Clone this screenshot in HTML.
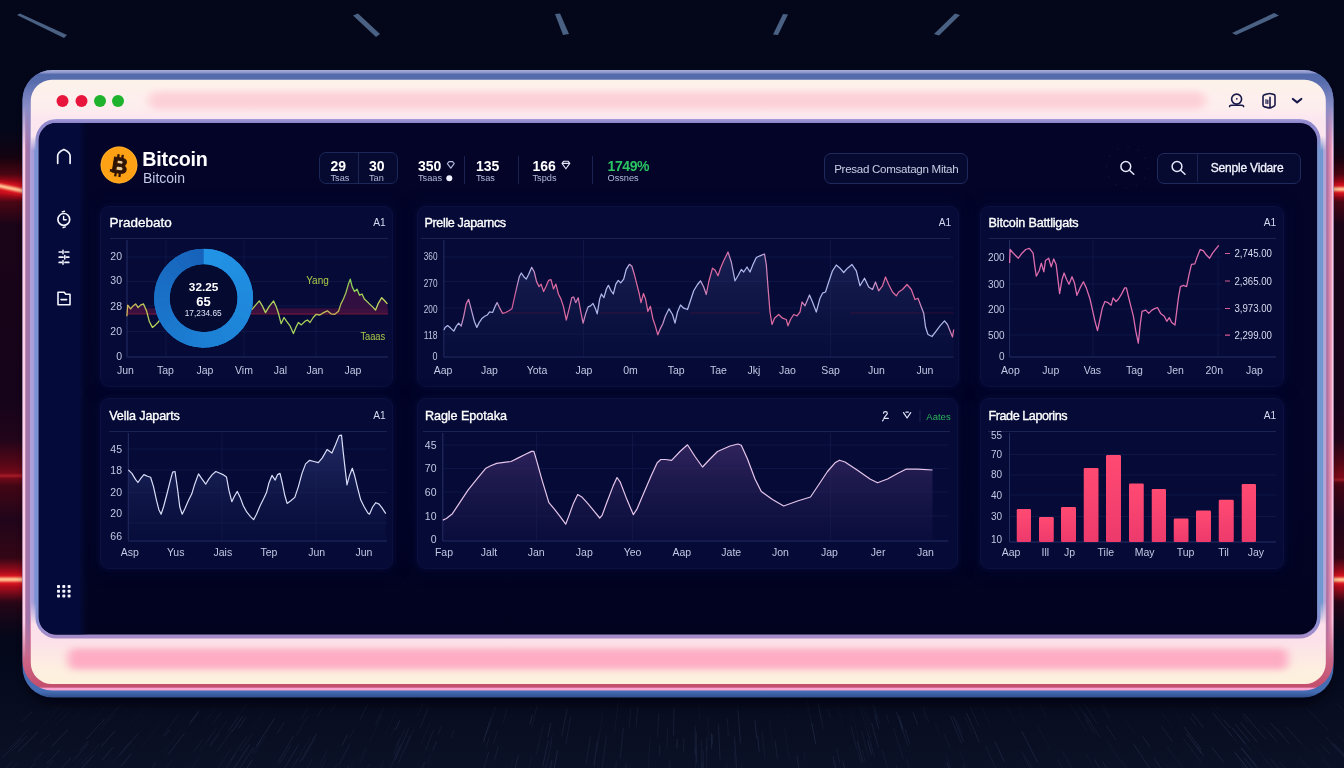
<!DOCTYPE html>
<html lang="en">
<head>
<meta charset="utf-8">
<title>Bitcoin Dashboard</title>
<style>
*{box-sizing:border-box}
html,body{margin:0;padding:0;background:#04071a}
body{width:1344px;height:768px;overflow:hidden;position:relative;font-family:"Liberation Sans",sans-serif;color:#fff}
#stage{position:absolute;left:0;top:0;width:1344px;height:768px;overflow:hidden;background:#04071a}
#stage svg{position:absolute;left:0;top:0;overflow:visible}
.abs{position:absolute}
/* window chrome */
.dot{position:absolute;width:12px;height:12px;border-radius:50%;top:95px}
/* header */
.brand-title{position:absolute;left:142.3px;top:147.5px;font-size:19.7px;font-weight:700;line-height:22px;letter-spacing:-0.2px;color:#fff}
.brand-sub{position:absolute;left:143px;top:170px;font-size:14px;line-height:16px;color:#c4c9e6}
.stat{position:absolute;top:157.6px;text-align:left;white-space:nowrap}
.stat b{display:block;font-size:14px;line-height:16px;font-weight:700;color:#fff}
.stat span{display:block;font-size:9.2px;line-height:10px;margin-top:-0.3px;color:#b4b9d8}
.vdiv{position:absolute;top:156px;width:1px;height:28px;background:#1a2350}
.btn{position:absolute;top:152.5px;height:31px;border:1px solid #1f2a5c;border-radius:7px;background:#060a31;font-size:12px;line-height:29px;color:#c9cde3;white-space:nowrap}
/* cards */
.card{position:absolute;border:1px solid #0b113f;border-radius:9px;background:#050a36;box-shadow:0 0 4px 1px rgba(5,10,54,.9),0 0 14px 5px rgba(4,8,50,.45)}
.card h3{position:absolute;left:8.4px;top:8.2px;margin:0;font-size:13.5px;line-height:16px;font-weight:400;color:#fff;white-space:nowrap;-webkit-text-stroke:0.35px #fff}
.card .tag{position:absolute;right:6.4px;top:8.8px;font-size:10.2px;line-height:14px;color:#d5d8ee;white-space:nowrap}
.card.r2 h3{top:9.2px}.card.r2 .tag{top:10px}.card.r2 hr{top:31.8px}
.card svg{left:0;top:0}
.card hr{position:absolute;left:8.5px;top:30.8px;margin:0;border:0;border-top:1px solid #1b2353}
svg text{font-family:"Liberation Sans",sans-serif}
.ax{fill:#c3c8e4}
.axm{fill:#c3c8e4;text-anchor:middle}
</style>
</head>
<body>
<div id="stage">
<svg id="bg" width="1344" height="768" viewBox="0 0 1344 768" aria-hidden="true">
<defs>
<linearGradient id="gFloor" x1="0" y1="0" x2="0" y2="1"><stop offset="0" stop-color="#04071a"/><stop offset="1" stop-color="#0b1126"/></linearGradient>
<linearGradient id="gSide" gradientUnits="userSpaceOnUse" x1="0" y1="0" x2="0" y2="768">
<stop offset="0.1628" stop-color="#0a0416" stop-opacity="0"/><stop offset="0.2057" stop-color="#16030f"/><stop offset="0.2266" stop-color="#4a0512"/><stop offset="0.2396" stop-color="#b00a1a"/><stop offset="0.2513" stop-color="#b80c1c"/><stop offset="0.2630" stop-color="#4a0614"/><stop offset="0.2930" stop-color="#1a0418"/><stop offset="0.5208" stop-color="#15041a"/><stop offset="0.5729" stop-color="#22051a"/><stop offset="0.6042" stop-color="#560717"/><stop offset="0.6198" stop-color="#7c0a1a"/><stop offset="0.6328" stop-color="#420615"/><stop offset="0.6771" stop-color="#20051a"/><stop offset="0.7266" stop-color="#340615"/><stop offset="0.7435" stop-color="#9a0c1c"/><stop offset="0.7552" stop-color="#c80e1e"/><stop offset="0.7669" stop-color="#9a0c1c"/><stop offset="0.7839" stop-color="#2a0616"/><stop offset="0.8398" stop-color="#0a0618" stop-opacity="0"/>
</linearGradient>
<filter id="fb1" x="-20%" y="-300%" width="140%" height="700%"><feGaussianBlur stdDeviation="1.2"/></filter>
<filter id="fb3" x="-20%" y="-300%" width="140%" height="700%"><feGaussianBlur stdDeviation="3"/></filter>
</defs>
<rect width="1344" height="768" fill="#04071a"/>
<rect y="640" width="1344" height="128" fill="url(#gFloor)"/>
<g stroke="#2a3654" stroke-width="0.7" stroke-linecap="round"><line x1="606.3" y1="736.5" x2="602.2" y2="768.3" opacity="0.46"/><line x1="683.8" y1="738.4" x2="683.6" y2="751.2" opacity="0.48"/><line x1="858.2" y1="752.1" x2="860.7" y2="762.3" opacity="0.37"/><line x1="86.0" y1="753.2" x2="68.6" y2="772.6" opacity="0.22"/><line x1="828.3" y1="709.6" x2="830.1" y2="717.7" opacity="0.38"/><line x1="81.4" y1="711.7" x2="71.5" y2="722.0" opacity="0.18"/><line x1="623.3" y1="728.5" x2="620.2" y2="758.3" opacity="0.49"/><line x1="867.7" y1="732.5" x2="874.3" y2="756.8" opacity="0.45"/><line x1="348.3" y1="765.8" x2="333.2" y2="796.2" opacity="0.66"/><line x1="956.3" y1="720.1" x2="961.7" y2="733.0" opacity="0.36"/><line x1="59.4" y1="750.3" x2="46.8" y2="763.8" opacity="0.67"/><line x1="507.1" y1="763.2" x2="499.4" y2="792.2" opacity="0.2"/><line x1="252.2" y1="760.0" x2="241.2" y2="777.0" opacity="0.74"/><line x1="537.5" y1="703.9" x2="531.7" y2="727.6" opacity="0.36"/><line x1="367.5" y1="704.8" x2="359.9" y2="719.6" opacity="0.45"/><line x1="1017.8" y1="706.9" x2="1024.5" y2="719.7" opacity="0.17"/><line x1="42.7" y1="752.4" x2="33.9" y2="761.5" opacity="0.51"/><line x1="602.8" y1="711.8" x2="599.1" y2="738.6" opacity="0.23"/><line x1="865.3" y1="706.8" x2="870.4" y2="725.0" opacity="0.21"/><line x1="337.0" y1="764.1" x2="323.8" y2="789.7" opacity="0.37"/><line x1="1191.9" y1="713.1" x2="1203.3" y2="727.4" opacity="0.59"/><line x1="862.5" y1="705.7" x2="871.4" y2="738.2" opacity="0.2"/><line x1="327.4" y1="750.8" x2="319.6" y2="765.3" opacity="0.36"/><line x1="106.3" y1="705.0" x2="90.5" y2="722.0" opacity="0.21"/><line x1="811.9" y1="723.9" x2="815.6" y2="743.3" opacity="0.73"/><line x1="650.0" y1="737.5" x2="648.2" y2="768.0" opacity="0.3"/><line x1="171.9" y1="759.9" x2="154.1" y2="783.1" opacity="0.34"/><line x1="231.2" y1="748.5" x2="212.9" y2="775.3" opacity="0.31"/><line x1="1321.8" y1="758.1" x2="1337.9" y2="775.4" opacity="0.43"/><line x1="149.7" y1="701.6" x2="128.1" y2="726.5" opacity="0.17"/><line x1="950.3" y1="716.2" x2="961.5" y2="743.4" opacity="0.52"/><line x1="396.2" y1="710.8" x2="385.0" y2="735.0" opacity="0.19"/><line x1="293.4" y1="736.5" x2="277.8" y2="762.3" opacity="0.54"/><line x1="354.0" y1="760.5" x2="348.1" y2="772.4" opacity="0.21"/><line x1="354.3" y1="728.9" x2="349.9" y2="737.4" opacity="0.3"/><line x1="489.3" y1="737.3" x2="485.9" y2="748.3" opacity="0.4"/><line x1="1241.7" y1="764.7" x2="1257.4" y2="784.2" opacity="0.58"/><line x1="786.5" y1="708.4" x2="787.8" y2="717.2" opacity="0.15"/><line x1="1253.9" y1="746.0" x2="1275.2" y2="771.2" opacity="0.21"/><line x1="861.7" y1="731.3" x2="868.6" y2="757.4" opacity="0.38"/><line x1="1336.8" y1="704.0" x2="1352.7" y2="719.5" opacity="0.35"/><line x1="1241.7" y1="748.4" x2="1258.4" y2="768.7" opacity="0.64"/><line x1="1240.6" y1="722.6" x2="1257.4" y2="742.2" opacity="0.7"/><line x1="1183.9" y1="726.9" x2="1201.3" y2="749.6" opacity="0.67"/><line x1="775.1" y1="740.9" x2="777.4" y2="758.7" opacity="0.52"/><line x1="818.3" y1="704.4" x2="823.3" y2="728.5" opacity="0.44"/><line x1="1212.2" y1="747.8" x2="1223.4" y2="762.0" opacity="0.6"/><line x1="784.7" y1="728.5" x2="789.1" y2="758.0" opacity="0.25"/><line x1="1004.4" y1="701.0" x2="1015.1" y2="722.1" opacity="0.22"/><line x1="290.4" y1="745.8" x2="279.6" y2="763.7" opacity="0.54"/><line x1="1242.5" y1="716.1" x2="1248.0" y2="722.4" opacity="0.36"/><line x1="913.2" y1="712.6" x2="917.4" y2="724.3" opacity="0.61"/><line x1="893.8" y1="728.6" x2="903.2" y2="758.4" opacity="0.38"/><line x1="896.7" y1="712.3" x2="902.6" y2="730.6" opacity="0.55"/><line x1="1269.8" y1="758.0" x2="1281.5" y2="771.7" opacity="0.52"/><line x1="428.3" y1="708.1" x2="420.2" y2="727.4" opacity="0.48"/><line x1="1167.2" y1="746.7" x2="1186.3" y2="773.2" opacity="0.35"/><line x1="215.9" y1="729.2" x2="207.0" y2="741.4" opacity="0.32"/><line x1="551.7" y1="740.9" x2="547.5" y2="761.3" opacity="0.37"/><line x1="1166.2" y1="764.8" x2="1177.5" y2="781.0" opacity="0.24"/><line x1="-3.1" y1="757.5" x2="-9.6" y2="763.8" opacity="0.59"/><line x1="769.3" y1="719.7" x2="772.9" y2="748.1" opacity="0.21"/><line x1="169.8" y1="729.5" x2="164.4" y2="736.2" opacity="0.66"/><line x1="322.4" y1="708.4" x2="317.8" y2="716.4" opacity="0.4"/><line x1="597.4" y1="741.2" x2="593.9" y2="766.0" opacity="0.64"/><line x1="1321.2" y1="744.9" x2="1330.3" y2="754.4" opacity="0.46"/><line x1="250.1" y1="699.7" x2="238.3" y2="716.3" opacity="0.26"/><line x1="238.2" y1="717.2" x2="228.4" y2="731.1" opacity="0.58"/><line x1="701.4" y1="740.2" x2="701.9" y2="767.8" opacity="0.42"/><line x1="1094.5" y1="759.7" x2="1099.7" y2="768.5" opacity="0.71"/><line x1="970.6" y1="707.7" x2="978.7" y2="725.8" opacity="0.38"/><line x1="1235.2" y1="724.2" x2="1249.9" y2="741.6" opacity="0.68"/><line x1="1103.0" y1="762.3" x2="1113.4" y2="779.4" opacity="0.56"/><line x1="253.5" y1="747.4" x2="237.4" y2="771.9" opacity="0.55"/><line x1="966.7" y1="713.3" x2="979.3" y2="742.1" opacity="0.66"/><line x1="1338.2" y1="735.0" x2="1358.3" y2="755.3" opacity="0.38"/><line x1="1262.4" y1="756.3" x2="1273.4" y2="769.4" opacity="0.25"/><line x1="590.4" y1="735.9" x2="586.2" y2="763.5" opacity="0.47"/><line x1="-3.2" y1="753.2" x2="-10.1" y2="759.9" opacity="0.64"/><line x1="226.7" y1="721.4" x2="210.1" y2="744.5" opacity="0.28"/><line x1="184.3" y1="733.6" x2="167.9" y2="754.8" opacity="0.66"/><line x1="947.1" y1="762.4" x2="954.5" y2="781.8" opacity="0.72"/><line x1="115.1" y1="713.8" x2="100.5" y2="729.9" opacity="0.33"/><line x1="995.0" y1="741.8" x2="1004.0" y2="761.4" opacity="0.66"/><line x1="754.9" y1="719.9" x2="756.7" y2="737.7" opacity="0.66"/><line x1="1212.9" y1="713.0" x2="1232.1" y2="736.2" opacity="0.65"/><line x1="706.7" y1="737.4" x2="707.0" y2="750.6" opacity="0.49"/><line x1="677.2" y1="739.6" x2="677.0" y2="748.3" opacity="0.73"/><line x1="695.1" y1="725.8" x2="695.3" y2="754.7" opacity="0.51"/><line x1="659.9" y1="745.3" x2="659.5" y2="755.0" opacity="0.5"/><line x1="546.8" y1="763.1" x2="540.2" y2="794.4" opacity="0.35"/><line x1="637.7" y1="707.5" x2="636.1" y2="726.7" opacity="0.45"/><line x1="1227.8" y1="730.9" x2="1238.1" y2="743.5" opacity="0.31"/><line x1="843.0" y1="761.0" x2="845.5" y2="772.1" opacity="0.63"/><line x1="31.7" y1="712.0" x2="21.7" y2="721.6" opacity="0.49"/><line x1="429.8" y1="722.8" x2="420.8" y2="745.2" opacity="0.26"/><line x1="981.8" y1="707.2" x2="990.7" y2="726.5" opacity="0.23"/><line x1="251.9" y1="734.5" x2="241.1" y2="750.6" opacity="0.41"/><line x1="552.3" y1="734.5" x2="549.8" y2="746.4" opacity="0.31"/><line x1="857.6" y1="741.8" x2="862.9" y2="762.9" opacity="0.67"/><line x1="833.1" y1="756.4" x2="836.0" y2="770.1" opacity="0.61"/><line x1="1121.2" y1="759.5" x2="1129.9" y2="773.2" opacity="0.37"/><line x1="1243.4" y1="713.6" x2="1265.8" y2="739.2" opacity="0.62"/><line x1="178.7" y1="715.0" x2="161.9" y2="736.0" opacity="0.33"/><line x1="93.7" y1="754.8" x2="81.2" y2="769.0" opacity="0.63"/><line x1="159.0" y1="726.0" x2="142.6" y2="745.9" opacity="0.21"/><line x1="249.6" y1="744.7" x2="232.1" y2="771.1" opacity="0.73"/><line x1="138.6" y1="732.9" x2="120.7" y2="754.1" opacity="0.48"/><line x1="923.1" y1="711.7" x2="926.5" y2="720.9" opacity="0.22"/><line x1="27.2" y1="736.0" x2="12.0" y2="751.0" opacity="0.51"/><line x1="198.6" y1="711.4" x2="190.5" y2="721.9" opacity="0.55"/><line x1="35.7" y1="762.8" x2="21.9" y2="777.2" opacity="0.62"/><line x1="433.4" y1="730.3" x2="425.5" y2="750.2" opacity="0.44"/><line x1="806.9" y1="699.9" x2="811.8" y2="725.7" opacity="0.3"/><line x1="232.6" y1="729.4" x2="216.9" y2="751.7" opacity="0.42"/><line x1="264.8" y1="710.1" x2="252.8" y2="727.7" opacity="0.16"/><line x1="1235.2" y1="752.7" x2="1251.8" y2="773.2" opacity="0.67"/><line x1="851.0" y1="726.1" x2="856.7" y2="749.0" opacity="0.48"/><line x1="1363.6" y1="752.9" x2="1374.0" y2="763.3" opacity="0.7"/><line x1="1021.5" y1="751.1" x2="1034.4" y2="777.3" opacity="0.42"/><line x1="1244.3" y1="757.9" x2="1260.8" y2="778.1" opacity="0.62"/><line x1="1037.8" y1="726.2" x2="1050.5" y2="749.8" opacity="0.24"/><line x1="453.9" y1="730.4" x2="451.1" y2="738.2" opacity="0.4"/><line x1="867.8" y1="740.8" x2="871.4" y2="754.4" opacity="0.72"/><line x1="900.0" y1="721.6" x2="907.8" y2="745.5" opacity="0.51"/><line x1="718.5" y1="725.1" x2="720.0" y2="759.1" opacity="0.55"/><line x1="959.4" y1="750.0" x2="971.9" y2="781.1" opacity="0.21"/><line x1="836.7" y1="748.5" x2="839.8" y2="762.8" opacity="0.42"/><line x1="68.8" y1="712.1" x2="56.4" y2="724.8" opacity="0.22"/><line x1="311.9" y1="759.7" x2="301.1" y2="779.2" opacity="0.48"/><line x1="1325.9" y1="737.1" x2="1349.5" y2="761.4" opacity="0.55"/><line x1="1084.7" y1="704.1" x2="1097.3" y2="724.0" opacity="0.36"/><line x1="12.7" y1="761.3" x2="4.1" y2="769.9" opacity="0.46"/><line x1="213.7" y1="732.2" x2="199.6" y2="751.5" opacity="0.23"/><line x1="1286.3" y1="727.2" x2="1301.0" y2="743.1" opacity="0.53"/><line x1="490.8" y1="718.1" x2="483.3" y2="742.0" opacity="0.51"/><line x1="365.3" y1="747.0" x2="358.4" y2="761.1" opacity="0.21"/><line x1="336.3" y1="701.9" x2="330.4" y2="712.4" opacity="0.32"/><line x1="513.2" y1="759.1" x2="506.3" y2="785.7" opacity="0.23"/><line x1="1232.1" y1="727.8" x2="1245.2" y2="743.4" opacity="0.74"/><line x1="316.2" y1="734.1" x2="300.1" y2="762.2" opacity="0.6"/><line x1="626.0" y1="764.6" x2="623.3" y2="793.7" opacity="0.53"/><line x1="131.5" y1="740.8" x2="118.7" y2="756.0" opacity="0.31"/><line x1="49.1" y1="734.4" x2="41.3" y2="742.4" opacity="0.44"/><line x1="905.1" y1="729.5" x2="909.7" y2="743.6" opacity="0.52"/><line x1="557.5" y1="751.1" x2="553.3" y2="772.5" opacity="0.75"/><line x1="1316.1" y1="748.2" x2="1325.8" y2="758.6" opacity="0.26"/><line x1="1233.6" y1="751.5" x2="1248.9" y2="770.4" opacity="0.4"/><line x1="349.3" y1="744.9" x2="339.0" y2="765.1" opacity="0.53"/><line x1="862.1" y1="749.5" x2="865.3" y2="762.0" opacity="0.34"/><line x1="63.2" y1="703.1" x2="52.5" y2="713.7" opacity="0.24"/><line x1="837.9" y1="705.9" x2="843.0" y2="727.4" opacity="0.15"/><line x1="88.0" y1="744.3" x2="73.0" y2="760.8" opacity="0.55"/><line x1="497.3" y1="731.1" x2="493.4" y2="744.0" opacity="0.39"/><line x1="1024.1" y1="755.2" x2="1028.5" y2="764.1" opacity="0.27"/><line x1="1107.5" y1="740.8" x2="1122.4" y2="764.5" opacity="0.32"/><line x1="570.9" y1="716.3" x2="565.6" y2="744.9" opacity="0.4"/><line x1="896.1" y1="765.3" x2="900.9" y2="781.0" opacity="0.5"/><line x1="1028.7" y1="760.7" x2="1037.2" y2="777.8" opacity="0.4"/><line x1="91.2" y1="757.6" x2="84.5" y2="765.2" opacity="0.25"/><line x1="762.0" y1="731.5" x2="764.8" y2="757.1" opacity="0.36"/><line x1="1039.5" y1="704.1" x2="1046.2" y2="715.9" opacity="0.33"/><line x1="104.2" y1="719.4" x2="86.1" y2="739.2" opacity="0.58"/><line x1="383.2" y1="708.6" x2="375.6" y2="724.1" opacity="0.44"/><line x1="495.4" y1="706.9" x2="487.5" y2="732.1" opacity="0.35"/><line x1="1279.6" y1="762.0" x2="1300.3" y2="786.0" opacity="0.44"/><line x1="1085.6" y1="719.4" x2="1094.2" y2="733.2" opacity="0.42"/><line x1="1300.2" y1="758.9" x2="1309.9" y2="769.7" opacity="0.4"/><line x1="489.1" y1="723.3" x2="483.7" y2="740.8" opacity="0.41"/><line x1="246.5" y1="736.8" x2="230.4" y2="760.6" opacity="0.5"/><line x1="1142.9" y1="736.7" x2="1150.0" y2="747.1" opacity="0.62"/><line x1="1190.3" y1="717.9" x2="1195.6" y2="724.6" opacity="0.48"/><line x1="734.5" y1="737.0" x2="736.8" y2="770.1" opacity="0.56"/><line x1="1077.3" y1="703.3" x2="1089.0" y2="722.2" opacity="0.35"/><line x1="120.9" y1="704.5" x2="102.6" y2="724.5" opacity="0.42"/><line x1="88.1" y1="741.5" x2="80.2" y2="750.2" opacity="0.61"/><line x1="874.9" y1="715.4" x2="878.7" y2="728.6" opacity="0.6"/><line x1="703.2" y1="750.2" x2="703.6" y2="768.5" opacity="0.39"/><line x1="1334.3" y1="744.0" x2="1348.8" y2="759.0" opacity="0.5"/><line x1="985.9" y1="746.4" x2="998.8" y2="775.5" opacity="0.43"/><line x1="1133.4" y1="743.7" x2="1150.1" y2="768.8" opacity="0.64"/><line x1="1154.3" y1="758.5" x2="1172.8" y2="785.7" opacity="0.55"/><line x1="706.4" y1="746.6" x2="707.1" y2="775.4" opacity="0.43"/><line x1="567.1" y1="708.8" x2="561.9" y2="735.6" opacity="0.55"/><line x1="506.6" y1="710.2" x2="502.9" y2="723.0" opacity="0.34"/><line x1="369.4" y1="764.0" x2="365.4" y2="772.6" opacity="0.37"/><line x1="129.7" y1="742.4" x2="111.5" y2="763.9" opacity="0.3"/><line x1="67.9" y1="729.7" x2="51.9" y2="746.5" opacity="0.7"/><line x1="55.8" y1="706.3" x2="46.6" y2="715.3" opacity="0.21"/><line x1="297.0" y1="747.1" x2="285.1" y2="767.3" opacity="0.32"/><line x1="245.8" y1="717.8" x2="238.6" y2="728.1" opacity="0.62"/><line x1="410.1" y1="735.7" x2="398.7" y2="762.6" opacity="0.46"/><line x1="326.4" y1="758.5" x2="311.4" y2="786.5" opacity="0.39"/><line x1="741.0" y1="763.1" x2="742.5" y2="783.6" opacity="0.32"/><line x1="18.2" y1="762.5" x2="-2.0" y2="783.0" opacity="0.41"/><line x1="711.3" y1="733.6" x2="711.8" y2="748.7" opacity="0.74"/><line x1="886.3" y1="714.9" x2="888.7" y2="722.8" opacity="0.44"/><line x1="488.6" y1="752.4" x2="481.0" y2="777.8" opacity="0.53"/><line x1="214.5" y1="709.5" x2="204.6" y2="722.6" opacity="0.26"/><line x1="1186.4" y1="733.6" x2="1201.3" y2="753.1" opacity="0.75"/><line x1="347.5" y1="734.8" x2="342.0" y2="745.4" opacity="0.62"/><line x1="1101.7" y1="704.5" x2="1110.0" y2="717.1" opacity="0.36"/><line x1="114.8" y1="731.2" x2="101.4" y2="746.3" opacity="0.73"/><line x1="797.0" y1="756.4" x2="799.5" y2="772.1" opacity="0.63"/><line x1="552.0" y1="760.4" x2="549.9" y2="770.6" opacity="0.65"/><line x1="266.2" y1="735.4" x2="254.4" y2="753.6" opacity="0.29"/><line x1="1125.3" y1="719.9" x2="1134.4" y2="733.2" opacity="0.24"/><line x1="404.1" y1="730.3" x2="393.4" y2="754.6" opacity="0.4"/><line x1="922.9" y1="706.1" x2="929.2" y2="723.2" opacity="0.3"/><line x1="1342.6" y1="754.6" x2="1360.0" y2="772.6" opacity="0.21"/><line x1="498.3" y1="746.6" x2="494.4" y2="760.2" opacity="0.51"/><line x1="618.5" y1="699.7" x2="614.6" y2="733.3" opacity="0.28"/><line x1="260.7" y1="740.3" x2="252.2" y2="753.3" opacity="0.41"/><line x1="727.4" y1="719.0" x2="728.3" y2="735.7" opacity="0.42"/><line x1="899.0" y1="716.2" x2="903.1" y2="728.7" opacity="0.6"/><line x1="424.5" y1="762.3" x2="416.2" y2="783.4" opacity="0.6"/><line x1="430.8" y1="754.4" x2="427.0" y2="764.1" opacity="0.28"/><line x1="99.2" y1="744.4" x2="81.6" y2="764.1" opacity="0.3"/><line x1="532.0" y1="755.1" x2="526.6" y2="777.9" opacity="0.25"/><line x1="307.3" y1="709.5" x2="301.4" y2="719.1" opacity="0.33"/><line x1="53.3" y1="760.7" x2="40.2" y2="774.6" opacity="0.48"/><line x1="882.5" y1="750.4" x2="890.6" y2="778.6" opacity="0.41"/><line x1="441.1" y1="726.6" x2="438.1" y2="734.5" opacity="0.42"/><line x1="963.3" y1="764.8" x2="973.9" y2="791.3" opacity="0.56"/><line x1="817.1" y1="700.2" x2="820.4" y2="716.5" opacity="0.18"/><line x1="874.4" y1="706.1" x2="879.5" y2="723.2" opacity="0.31"/><line x1="1086.4" y1="754.3" x2="1098.5" y2="774.9" opacity="0.29"/><line x1="1057.6" y1="759.5" x2="1068.2" y2="779.1" opacity="0.39"/><line x1="674.1" y1="708.5" x2="673.4" y2="735.0" opacity="0.54"/><line x1="695.3" y1="746.9" x2="695.5" y2="776.7" opacity="0.31"/><line x1="1298.5" y1="741.0" x2="1307.4" y2="750.7" opacity="0.25"/><line x1="315.4" y1="737.6" x2="302.5" y2="760.3" opacity="0.38"/><line x1="1260.4" y1="723.2" x2="1273.7" y2="738.2" opacity="0.27"/><line x1="1306.5" y1="708.1" x2="1328.6" y2="730.6" opacity="0.36"/><line x1="757.7" y1="736.5" x2="759.2" y2="751.3" opacity="0.7"/><line x1="131.0" y1="754.3" x2="121.1" y2="766.2" opacity="0.69"/><line x1="310.3" y1="737.4" x2="295.5" y2="763.1" opacity="0.3"/><line x1="737.2" y1="704.1" x2="737.9" y2="712.9" opacity="0.18"/><line x1="400.9" y1="744.0" x2="390.0" y2="768.9" opacity="0.41"/><line x1="804.0" y1="752.9" x2="805.4" y2="761.2" opacity="0.31"/><line x1="630.8" y1="708.6" x2="629.1" y2="726.5" opacity="0.38"/><line x1="218.9" y1="733.8" x2="210.2" y2="745.9" opacity="0.51"/><line x1="436.2" y1="742.0" x2="432.9" y2="750.4" opacity="0.57"/><line x1="155.6" y1="763.3" x2="141.1" y2="781.9" opacity="0.46"/><line x1="548.2" y1="740.8" x2="542.7" y2="766.1" opacity="0.62"/><line x1="1021.9" y1="731.5" x2="1037.3" y2="761.7" opacity="0.66"/><line x1="1161.5" y1="726.4" x2="1172.8" y2="742.0" opacity="0.51"/><line x1="1237.1" y1="734.2" x2="1250.9" y2="750.8" opacity="0.44"/><line x1="1224.2" y1="720.5" x2="1230.3" y2="727.7" opacity="0.6"/><line x1="1241.3" y1="748.0" x2="1256.3" y2="766.2" opacity="0.61"/><line x1="399.1" y1="738.8" x2="395.1" y2="747.7" opacity="0.27"/><line x1="599.3" y1="732.7" x2="596.7" y2="750.8" opacity="0.23"/><line x1="944.2" y1="734.3" x2="949.4" y2="747.5" opacity="0.37"/><line x1="532.3" y1="714.8" x2="529.9" y2="724.3" opacity="0.66"/><line x1="1331.3" y1="743.6" x2="1352.6" y2="765.6" opacity="0.43"/><line x1="1085.1" y1="713.9" x2="1099.6" y2="737.1" opacity="0.47"/><line x1="1210.7" y1="705.6" x2="1229.0" y2="727.6" opacity="0.17"/><line x1="726.7" y1="762.7" x2="727.2" y2="770.7" opacity="0.33"/><line x1="399.5" y1="720.8" x2="395.6" y2="729.5" opacity="0.69"/><line x1="1106.5" y1="725.6" x2="1115.8" y2="740.1" opacity="0.52"/><line x1="73.6" y1="701.1" x2="51.5" y2="723.3" opacity="0.18"/><line x1="669.9" y1="761.6" x2="668.9" y2="795.0" opacity="0.46"/><line x1="274.3" y1="718.8" x2="256.9" y2="745.6" opacity="0.69"/><line x1="234.9" y1="755.1" x2="225.3" y2="769.4" opacity="0.46"/><line x1="198.9" y1="757.9" x2="179.1" y2="785.4" opacity="0.31"/><line x1="851.5" y1="711.8" x2="859.1" y2="741.8" opacity="0.19"/><line x1="112.9" y1="747.6" x2="102.4" y2="759.8" opacity="0.7"/><line x1="1196.9" y1="746.8" x2="1203.9" y2="755.9" opacity="0.58"/><line x1="1277.5" y1="728.8" x2="1284.2" y2="736.3" opacity="0.32"/><line x1="399.0" y1="746.6" x2="393.8" y2="758.6" opacity="0.3"/><line x1="299.1" y1="743.5" x2="284.6" y2="768.1" opacity="0.4"/><line x1="906.1" y1="758.3" x2="913.2" y2="780.5" opacity="0.33"/><line x1="383.7" y1="761.1" x2="373.3" y2="784.2" opacity="0.35"/><line x1="859.8" y1="705.0" x2="868.6" y2="737.4" opacity="0.27"/><line x1="712.3" y1="734.6" x2="712.6" y2="743.7" opacity="0.53"/><line x1="381.9" y1="715.8" x2="369.3" y2="741.8" opacity="0.24"/><line x1="366.3" y1="749.6" x2="360.1" y2="762.6" opacity="0.35"/><line x1="738.1" y1="711.5" x2="740.5" y2="742.7" opacity="0.62"/><line x1="28.0" y1="729.9" x2="8.4" y2="749.2" opacity="0.41"/><line x1="1268.9" y1="732.5" x2="1277.4" y2="742.0" opacity="0.51"/><line x1="871.6" y1="723.1" x2="878.4" y2="747.3" opacity="0.63"/><line x1="696.2" y1="732.9" x2="696.5" y2="762.9" opacity="0.58"/><line x1="702.0" y1="762.8" x2="702.2" y2="775.3" opacity="0.63"/><line x1="202.7" y1="739.7" x2="194.3" y2="751.1" opacity="0.44"/><line x1="1062.7" y1="751.7" x2="1076.5" y2="776.7" opacity="0.33"/><line x1="658.7" y1="713.8" x2="657.6" y2="736.9" opacity="0.43"/><line x1="21.2" y1="739.0" x2="2.2" y2="757.6" opacity="0.51"/><line x1="1174.2" y1="711.1" x2="1181.5" y2="720.5" opacity="0.17"/><line x1="667.7" y1="728.1" x2="667.0" y2="747.6" opacity="0.34"/><line x1="1070.0" y1="703.9" x2="1086.4" y2="730.8" opacity="0.3"/><line x1="734.2" y1="752.0" x2="735.2" y2="766.2" opacity="0.28"/><line x1="423.7" y1="701.8" x2="417.3" y2="716.7" opacity="0.28"/><line x1="707.8" y1="716.7" x2="708.5" y2="740.0" opacity="0.25"/><line x1="1103.6" y1="710.5" x2="1111.6" y2="722.7" opacity="0.23"/><line x1="946.1" y1="754.7" x2="956.2" y2="781.3" opacity="0.23"/><line x1="550.8" y1="723.4" x2="547.9" y2="736.7" opacity="0.73"/><line x1="37.9" y1="731.8" x2="18.2" y2="751.4" opacity="0.74"/><line x1="181.8" y1="729.5" x2="164.9" y2="751.1" opacity="0.22"/><line x1="297.7" y1="758.6" x2="291.8" y2="768.7" opacity="0.42"/><line x1="394.9" y1="727.4" x2="390.7" y2="736.5" opacity="0.22"/><line x1="307.8" y1="716.0" x2="296.3" y2="735.1" opacity="0.33"/><line x1="616.4" y1="761.5" x2="614.6" y2="778.8" opacity="0.39"/><line x1="1348.5" y1="739.9" x2="1354.9" y2="746.3" opacity="0.42"/><line x1="872.3" y1="702.9" x2="877.0" y2="719.2" opacity="0.32"/><line x1="1183.5" y1="738.6" x2="1202.1" y2="763.4" opacity="0.45"/><line x1="518.4" y1="755.5" x2="514.0" y2="772.8" opacity="0.63"/><line x1="284.2" y1="722.3" x2="277.4" y2="733.1" opacity="0.5"/><line x1="220.9" y1="712.6" x2="212.9" y2="723.5" opacity="0.4"/><line x1="408.6" y1="729.0" x2="395.2" y2="760.0" opacity="0.57"/><line x1="1161.8" y1="712.7" x2="1172.5" y2="727.1" opacity="0.21"/><line x1="935.1" y1="723.3" x2="940.5" y2="737.5" opacity="0.21"/><line x1="242.7" y1="716.6" x2="232.2" y2="731.5" opacity="0.71"/><line x1="965.0" y1="717.0" x2="971.9" y2="733.0" opacity="0.28"/><line x1="1270.7" y1="723.1" x2="1289.4" y2="743.8" opacity="0.6"/><line x1="1211.1" y1="700.4" x2="1221.7" y2="712.9" opacity="0.19"/><line x1="70.8" y1="758.1" x2="59.7" y2="770.3" opacity="0.62"/><line x1="699.3" y1="702.7" x2="699.6" y2="720.9" opacity="0.18"/><line x1="58.8" y1="709.1" x2="42.2" y2="725.7" opacity="0.16"/><line x1="414.5" y1="727.4" x2="405.8" y2="747.8" opacity="0.27"/><line x1="953.2" y1="716.4" x2="963.4" y2="741.3" opacity="0.57"/><line x1="198.4" y1="712.7" x2="189.1" y2="724.8" opacity="0.52"/><line x1="543.2" y1="724.9" x2="536.4" y2="754.6" opacity="0.32"/></g>
<g fill="#4a6183">
<polygon points="17,15 20,13.5 67,35 64,38"/>
<polygon points="353,15.5 358,13.5 380,34 376,37"/>
<polygon points="555,14 560,13.5 569,34 563,35"/>
<polygon points="783,14 788,14.5 778,35 773,34.5"/>
<polygon points="955,13.5 960,15 939,35.5 934,34"/>
<polygon points="1274,13 1279,15.5 1236,35 1232,33"/>
</g>
<rect x="0" y="100" width="26" height="560" fill="url(#gSide)"/>
<rect x="1330" y="100" width="14" height="560" fill="url(#gSide)"/>
<g filter="url(#fb3)" fill="#ff1f24" opacity=".9"><rect x="-4" y="185" width="30" height="7" transform="rotate(12 11 188.5)"/><rect x="1330" y="186" width="20" height="7"/><rect x="-4" y="576" width="30" height="7"/><rect x="1330" y="576" width="20" height="7"/></g>
<g filter="url(#fb1)" fill="#ffd49c"><rect x="-4" y="186.6" width="28" height="3.6" transform="rotate(12 11 188.5)"/><rect x="1330" y="187.4" width="20" height="3.6"/><rect x="-4" y="577.6" width="28" height="3.8"/><rect x="1330" y="577.8" width="20" height="3.8"/></g>
<rect x="-2" y="475" width="26" height="1.4" fill="#ff4040" opacity=".65" filter="url(#fb1)"/>
<rect x="1332" y="479" width="14" height="1.4" fill="#ff4040" opacity=".65" filter="url(#fb1)"/>
</svg>
<svg id="frame" width="1344" height="768" viewBox="0 0 1344 768" aria-hidden="true">
<defs>
<linearGradient id="gBase" gradientUnits="userSpaceOnUse" x1="0" y1="70" x2="0" y2="698"><stop offset="0" stop-color="#526aab"/><stop offset="0.9" stop-color="#4a6eb4"/><stop offset="0.99" stop-color="#446cb2"/><stop offset="1" stop-color="#2e4c8a"/></linearGradient>
<linearGradient id="gOuter" gradientUnits="userSpaceOnUse" x1="0" y1="70" x2="0" y2="690.5">
<stop offset="0" stop-color="#a9b0dc"/><stop offset="0.004" stop-color="#8d97cc"/><stop offset="0.007" stop-color="#546bab"/><stop offset="0.018" stop-color="#566cad"/>
<stop offset="0.06" stop-color="#8a8ec8"/><stop offset="0.13" stop-color="#aa9bd0"/><stop offset="0.5" stop-color="#c09fca"/><stop offset="0.8" stop-color="#d596b8"/><stop offset="0.95" stop-color="#cc6688"/>
<stop offset="0.99" stop-color="#c4506f"/><stop offset="0.9945" stop-color="#c4506f"/><stop offset="0.9965" stop-color="#f7a4d2"/><stop offset="1" stop-color="#f7a4d2"/>
</linearGradient>
<linearGradient id="gRight" gradientUnits="userSpaceOnUse" x1="0" y1="110" x2="0" y2="660"><stop offset="0" stop-color="#e590b6" stop-opacity="0"/><stop offset="0.12" stop-color="#e590b6" stop-opacity=".9"/><stop offset="0.9" stop-color="#e88cae" stop-opacity=".9"/><stop offset="1" stop-color="#e88cae" stop-opacity="0"/></linearGradient>
<linearGradient id="gCream" gradientUnits="userSpaceOnUse" x1="0" y1="80" x2="0" y2="684">
<stop offset="0" stop-color="#fdf2ea"/><stop offset="0.045" stop-color="#fdeeee"/><stop offset="0.065" stop-color="#fbe6f0"/><stop offset="0.5" stop-color="#f6e0ee"/><stop offset="0.925" stop-color="#fce0ea"/><stop offset="0.975" stop-color="#fdefe0"/><stop offset="1" stop-color="#fdf0dc"/>
</linearGradient>
<linearGradient id="gBand" gradientUnits="userSpaceOnUse" x1="0" y1="138" x2="0" y2="622">
<stop offset="0" stop-color="#8c9adc" stop-opacity="0"/><stop offset="0.03" stop-color="#8c9adc"/><stop offset="0.5" stop-color="#8098d8"/><stop offset="0.96" stop-color="#8c9ad8"/><stop offset="1" stop-color="#8c9ad8" stop-opacity="0"/>
</linearGradient>
<filter id="fb4" x="-5%" y="-100%" width="110%" height="300%"><feGaussianBlur stdDeviation="5 3.2"/></filter>
<filter id="fbs" x="-5%" y="-5%" width="110%" height="120%"><feGaussianBlur stdDeviation="5"/></filter>
</defs>
<rect x="26" y="80" width="1304" height="624" rx="30" fill="#01020a" opacity=".75" filter="url(#fbs)"/>
<rect x="22.5" y="70" width="1311" height="627.5" rx="30" fill="url(#gBase)"/>
<rect x="22.5" y="70" width="1311" height="620.5" rx="30" fill="url(#gOuter)"/>
<rect x="30.8" y="79.8" width="1295" height="604.2" rx="21" fill="url(#gCream)"/>
<rect x="148" y="91.5" width="1058" height="18" rx="9" fill="#fdd0d8" filter="url(#fb4)"/>
<rect x="68" y="648.5" width="1220" height="21" rx="6" fill="#fdacc4" filter="url(#fb4)"/>
<linearGradient id="gPB" x1="0" y1="0" x2="0" y2="1"><stop offset="0" stop-color="#a59ddc"/><stop offset="0.006" stop-color="#9088cc"/><stop offset="0.97" stop-color="#8f8fd2"/><stop offset="1" stop-color="#a88cc8"/></linearGradient>
<rect x="35.5" y="119" width="1285" height="519.5" rx="21" fill="url(#gPB)"/>
<linearGradient id="gLs" gradientUnits="userSpaceOnUse" x1="22.5" y1="0" x2="38.7" y2="0"><stop offset="0" stop-color="#fcd2e6"/><stop offset="0.14" stop-color="#fdd0e6"/><stop offset="0.2" stop-color="#a874a4"/><stop offset="0.43" stop-color="#9a72ae"/><stop offset="0.48" stop-color="#b0a2d8"/><stop offset="0.69" stop-color="#a89cd8"/><stop offset="0.76" stop-color="#7c92d2"/><stop offset="1" stop-color="#7a94d4"/></linearGradient>
<linearGradient id="gRs" gradientUnits="userSpaceOnUse" x1="1316.9" y1="0" x2="1333.5" y2="0"><stop offset="0" stop-color="#7c96d2"/><stop offset="0.34" stop-color="#6e98d0"/><stop offset="0.41" stop-color="#b6a8d8"/><stop offset="0.54" stop-color="#b4a0d4"/><stop offset="0.59" stop-color="#a86a9a"/><stop offset="0.87" stop-color="#f098b8"/><stop offset="0.92" stop-color="#fdc8e0"/><stop offset="1" stop-color="#fdc8e0"/></linearGradient>
<linearGradient id="gFadeO" gradientUnits="userSpaceOnUse" x1="0" y1="105" x2="0" y2="660"><stop offset="0" stop-color="#fff" stop-opacity="0"/><stop offset="0.08" stop-color="#fff"/><stop offset="0.93" stop-color="#fff"/><stop offset="1" stop-color="#fff" stop-opacity="0"/></linearGradient>
<linearGradient id="gFadeI" gradientUnits="userSpaceOnUse" x1="0" y1="136" x2="0" y2="624"><stop offset="0" stop-color="#fff" stop-opacity="0"/><stop offset="0.03" stop-color="#fff"/><stop offset="0.955" stop-color="#fff"/><stop offset="1" stop-color="#fff" stop-opacity="0"/></linearGradient>
<mask id="mSide" maskUnits="userSpaceOnUse" x="0" y="0" width="1344" height="768"><rect x="22.5" y="105" width="7.500" height="555" fill="url(#gFadeO)"/><rect x="30" y="136" width="8.700" height="488" fill="url(#gFadeI)"/><rect x="1326.200" y="105" width="7.300" height="555" fill="url(#gFadeO)"/><rect x="1316.900" y="136" width="9.300" height="488" fill="url(#gFadeI)"/></mask>
<g mask="url(#mSide)"><rect x="22.5" y="100" width="16.200" height="565" fill="url(#gLs)"/><rect x="1316.900" y="100" width="16.600" height="565" fill="url(#gRs)"/></g>
<linearGradient id="gPanel" x1="0" y1="0" x2="0" y2="1"><stop offset="0" stop-color="#030428"/><stop offset="0.75" stop-color="#030426"/><stop offset="1" stop-color="#02031f"/></linearGradient>
<rect x="38.600" y="123" width="1278.500" height="511.500" rx="17.500" fill="url(#gPanel)"/>
<circle cx="62.5" cy="101" r="6" fill="#e8163c"/><circle cx="81.5" cy="101" r="6" fill="#e8163c"/><circle cx="100" cy="101" r="6" fill="#1db32d"/><circle cx="118" cy="101" r="6" fill="#1db32d"/>
<g fill="none" stroke="#191a4a" stroke-width="1.6" stroke-linecap="round" stroke-linejoin="round">
<circle cx="1236.6" cy="99.1" r="5"/><path d="M1229.6 106.6c0-1.4 1.2-1.3 2.6-1.3h8.8c1.4 0 2.6-.1 2.6 1.3"/>
<path d="M1263 96.6c0-1.2.6-1.8 1.8-2l3.6-.9c.8-.2 1.400-.2 2.2 0l3 .7c1 .2 1.4.8 1.4 1.800v8.200c0 .9-.3 1.400-1.100 1.800l-3 1.500c-.8.400-1.400.4-2.200.2l-4-1c-1.100-.3-1.700-.9-1.700-2z M1270 97.400v9.800"/><path d="M1266 99.600v3.800M1267.800 100v3.600" stroke-width="1.2"/>
</g>
<circle cx="1236.8" cy="98.800" r="0.900" fill="#191a4a"/>
<path d="M1292.900 99l4.200 3.300 4.200-3.300" fill="none" stroke="#191a4a" stroke-width="2.200" stroke-linecap="round" stroke-linejoin="round"/>
</svg>
<svg id="panel" width="1344" height="768" viewBox="0 0 1344 768" aria-hidden="true">
<defs>
<linearGradient id="gSidebar" x1="0" y1="0" x2="1" y2="0"><stop offset="0" stop-color="#040b3a"/><stop offset="0.8" stop-color="#040b3a"/><stop offset="1" stop-color="#030828" stop-opacity="0"/></linearGradient>
<clipPath id="cpPanel"><rect x="39" y="123" width="1278.5" height="511.5" rx="17.5"/></clipPath>
</defs>
<g clip-path="url(#cpPanel)">
<rect x="39" y="123" width="50" height="512" fill="url(#gSidebar)"/>
</g>
<g fill="none" stroke="#f4f5ff" stroke-width="1.7" stroke-linecap="round" stroke-linejoin="round">
<path d="M57.700 163.300v-7.600c0-2.600 3-4.800 6.200-6.300 3.200 1.500 6.200 3.700 6.200 6.300v7.600"/>
<circle cx="63.8" cy="219.4" r="5.9"/><path d="M63.6 216.4v3.4h2.6M62.3 211.9l2.2-0.6M65.3 226.9l-2.2 0.6" stroke-width="1.4"/>
<path d="M59.2 252h2.600M65 252h3.800M59.200 257.200h3.800M66.400 257.200h2.400M59.200 262.400h2.600M65 262.400h3.800" stroke-width="1.700"/>
<path d="M63 250.200v3.600M64.800 255.400v3.600M63 260.600v3.600" stroke-width="1.500"/>
<path d="M58 292.2h6.2l1.6 2h4.2v10.6h-12z M61 299.6h5.6" stroke-width="1.6"/>
</g>
<g fill="#f4f5ff">
<rect x="57" y="585" width="3" height="3" rx=".8"/><rect x="62.3" y="585" width="3" height="3" rx=".8"/><rect x="67.6" y="585" width="3" height="3" rx=".8"/>
<rect x="57" y="589.8" width="3" height="3" rx=".8"/><rect x="62.3" y="589.8" width="3" height="3" rx=".8"/><rect x="67.6" y="589.8" width="3" height="3" rx=".8"/>
<rect x="57" y="594.6" width="3" height="3" rx=".8"/><rect x="62.3" y="594.6" width="3" height="3" rx=".8"/><rect x="67.6" y="594.6" width="3" height="3" rx=".8"/>
</g>
</svg>
<svg class="logo" width="40" height="40" viewBox="0 0 40 40" style="left:98.7px;top:145.1px" aria-label="Bitcoin logo">
<circle cx="20" cy="20" r="18.4" fill="#ffa114"/>
<circle cx="20" cy="20" r="17.9" fill="none" stroke="#ffb53c" stroke-width="0.8" opacity=".7"/>
<ellipse cx="21.6" cy="16.7" rx="2.6" ry="2.3" fill="#e6c99a"/><ellipse cx="20.6" cy="23.6" rx="3" ry="2.4" fill="#e6c99a"/>
<g transform="rotate(9 20 20)">
<text x="20.8" y="28" text-anchor="middle" font-size="22" font-weight="700" fill="#2e1406" stroke="#2e1406" stroke-width="1.1" font-family="Liberation Sans, sans-serif">B</text>
<path d="M18 9.400v3.600M22.200 9.400v3.600M18 28v3.800M22.200 28v3.800" stroke="#2e1406" stroke-width="2.300" fill="none"/>
<path d="M11.800 26.600h4" stroke="#2e1406" stroke-width="2.600" fill="none"/>
</g>
</svg>
<div class="brand-title">Bitcoin</div>
<div class="brand-sub">Bitcoin</div>
<div class="abs" style="left:319.4px;top:152.3px;width:79px;height:31.4px;border:1px solid #1c2758;border-radius:7px;background:#060a31"></div>
<div class="vdiv" style="left:358px;top:153px;height:30px;background:#1c2758"></div>
<div class="stat" style="left:330.5px"><b>29</b><span>Tsas</span></div>
<div class="stat" style="left:369px"><b>30</b><span>Tan</span></div>
<div class="stat" style="left:418px"><b>350</b><span>Tsaas</span></div>
<div class="vdiv" style="left:464px"></div>
<div class="stat" style="left:476px"><b>135</b><span>Tsas</span></div>
<div class="vdiv" style="left:518px"></div>
<div class="stat" style="left:532.5px"><b>166</b><span>Tspds</span></div>
<div class="vdiv" style="left:592px"></div>
<div class="stat" style="left:607.5px"><b style="color:#2bc463;letter-spacing:-0.4px">1749%</b><span>Ossnes</span></div>
<svg width="1344" height="768" viewBox="0 0 1344 768" aria-hidden="true">
<g fill="none" stroke="#b9bedc" stroke-width="1.1" stroke-linejoin="round">
<path d="M447.4 163.6l1.6-2h3.6l1.6 2-3.4 4.6z"/>
<path d="M562 163.4l1.8-2.2h4.2l1.8 2.2-3.9 5.4z M562 163.4h7.8" stroke="#e3e6f8"/>
</g>
<circle cx="449.3" cy="178.3" r="3" fill="#f0f2ff"/>
<circle cx="1127" cy="167.5" r="20.5" fill="none" stroke="#161d48" stroke-width="1.5" stroke-dasharray="1.5 9.2" opacity=".55"/>
<g fill="none" stroke="#e8eafb" stroke-width="1.5" stroke-linecap="round">
<circle cx="1125.8" cy="166.5" r="4.9"/><path d="M1129.5 170.2l4.300 4"/>
</g>
</svg>
<div class="btn" style="left:824.4px;width:143.8px;text-align:center;font-size:11.6px;letter-spacing:-0.3px">Presad Comsatagn Mitah</div>
<div class="btn" style="left:1157.2px;width:143.5px;padding-left:52.6px;color:#f3f4ff;font-size:12px;letter-spacing:-0.2px;-webkit-text-stroke:0.3px #f3f4ff">Senple Vidare</div>
<div class="vdiv" style="left:1197px;top:154px;height:28px;background:#1a2454"></div>
<svg width="1344" height="768" viewBox="0 0 1344 768" aria-hidden="true">
<g fill="none" stroke="#e8eafb" stroke-width="1.5" stroke-linecap="round">
<circle cx="1177" cy="166.5" r="4.9"/><path d="M1180.700 170.2l4.300 4"/>
</g>
</svg>
<section class="card r1" style="left:100px;top:206px;width:293px;height:181px">
<h3 style="">Pradebato</h3><span class="tag">A1</span><hr style="left:8.6px;width:278.4px">
<svg width="291" height="179" viewBox="101 207 291 179" role="img" aria-label="Pradebato chart">
<g stroke="#0f1646" stroke-width="1" fill="none"><line x1="127" x2="388" y1="257" y2="257"/><line x1="127" x2="388" y1="281.5" y2="281.5"/><line x1="127" x2="388" y1="306" y2="306"/><line x1="127" x2="388" y1="331.5" y2="331.5"/><line x1="166" x2="166" y1="240" y2="357"/><line x1="244" x2="244" y1="240" y2="357"/><line x1="316" x2="316" y1="240" y2="357"/></g>
<path d="M127 240V357H388" fill="none" stroke="#252f66" stroke-width="1"/>
<clipPath id="cpUp"><rect x="127" y="240" width="261" height="75"/></clipPath>
<g clip-path="url(#cpUp)" fill="#3c1044" opacity=".8"><path d="M126.9,316.3 L127.7,305.1 L130.6,308.9 L133.1,305.9 L135.6,303.9 L138.1,307.6 L140.5,305.1 L143.5,303.9 L146.7,311.3 L149.2,321.2 L152.4,327.4 L155.4,324.9 L157.9,322.5 L160.8,318.8 L160.8,313.5 L126.9,313.5 Z"/><path d="M249.4,311.3 L252.4,308.9 L255.6,305.1 L259.3,300.9 L262.3,305.9 L265.5,312.6 L269.2,306.4 L273.6,300.9 L276.1,306.4 L278.6,313.8 L281.1,323.7 L284.0,317.5 L286.5,321.2 L290.2,326.2 L293.4,333.6 L295.9,327.4 L298.4,322.5 L301.3,324.9 L305.1,321.2 L307.5,320.0 L310.0,322.5 L313.2,317.5 L316.2,314.3 L319.9,315.0 L323.6,312.6 L327.3,310.8 L331.0,313.8 L334.7,314.3 L338.5,311.3 L340.9,303.9 L343.4,299.0 L345.9,292.8 L348.4,284.1 L350.3,279.2 L352.1,286.6 L354.5,291.5 L357.0,289.1 L359.5,295.2 L362.0,294.0 L364.4,299.0 L366.9,301.4 L369.4,303.9 L372.6,306.9 L375.6,310.1 L378.0,303.9 L381.7,297.7 L384.2,300.2 L387.4,303.9 L387.4,313.5 L249.4,313.5 Z"/></g>
<path d="M127 311.2H388" stroke="#3e1040" stroke-width="6" fill="none" opacity=".85"/>
<path d="M127 313.8H388" stroke="#6a1638" stroke-width="1.2" fill="none" opacity=".9"/>
<defs><linearGradient id="gL1" gradientUnits="userSpaceOnUse" x1="127" y1="0" x2="388" y2="0"><stop offset="0" stop-color="#d2b454"/><stop offset="0.1" stop-color="#b6d45a"/><stop offset="0.45" stop-color="#b0d65c"/><stop offset="0.66" stop-color="#a4d25a"/><stop offset="0.8" stop-color="#c8b652"/><stop offset="0.86" stop-color="#84d058"/><stop offset="0.93" stop-color="#b4d65c"/><stop offset="1" stop-color="#c2d860"/></linearGradient></defs>
<path d="M126.9,316.3 L127.7,305.1 L130.6,308.9 L133.1,305.9 L135.6,303.9 L138.1,307.6 L140.5,305.1 L143.5,303.9 L146.7,311.3 L149.2,321.2 L152.4,327.4 L155.4,324.9 L157.9,322.5 L160.8,318.8" fill="none" stroke="url(#gL1)" stroke-width="1.3" stroke-linejoin="round"/>
<path d="M249.4,311.3 L252.4,308.9 L255.6,305.1 L259.3,300.9 L262.3,305.9 L265.5,312.6 L269.2,306.4 L273.6,300.9 L276.1,306.4 L278.6,313.8 L281.1,323.7 L284.0,317.5 L286.5,321.2 L290.2,326.2 L293.4,333.6 L295.9,327.4 L298.4,322.5 L301.3,324.9 L305.1,321.2 L307.5,320.0 L310.0,322.5 L313.2,317.5 L316.2,314.3 L319.9,315.0 L323.6,312.6 L327.3,310.8 L331.0,313.8 L334.7,314.3 L338.5,311.3 L340.9,303.9 L343.4,299.0 L345.9,292.8 L348.4,284.1 L350.3,279.2 L352.1,286.6 L354.5,291.5 L357.0,289.1 L359.5,295.2 L362.0,294.0 L364.4,299.0 L366.9,301.4 L369.4,303.9 L372.6,306.9 L375.6,310.1 L378.0,303.9 L381.7,297.7 L384.2,300.2 L387.4,303.9" fill="none" stroke="url(#gL1)" stroke-width="1.3" stroke-linejoin="round"/>
<circle cx="203.6" cy="298.2" r="49.5" fill="#050a30"/>
<circle cx="203.6" cy="298.2" r="41.7" fill="none" stroke="#1c7ed2" stroke-width="15.2"/><g fill="none" stroke-width="15.6"><path d="M203.60 256.50A41.7 41.7 0 0 1 212.27 257.41" stroke="#2294e6"/><path d="M210.12 257.01A41.7 41.7 0 0 1 218.54 259.27" stroke="#2292e5"/><path d="M216.49 258.54A41.7 41.7 0 0 1 224.45 262.09" stroke="#2192e4"/><path d="M222.53 261.05A41.7 41.7 0 0 1 229.84 265.79" stroke="#2190e3"/><path d="M228.11 264.46A41.7 41.7 0 0 1 234.59 270.30" stroke="#2190e2"/><path d="M233.09 268.71A41.7 41.7 0 0 1 238.57 275.49" stroke="#208ee1"/><path d="M237.34 273.69A41.7 41.7 0 0 1 241.69 281.24" stroke="#208ee0"/><path d="M240.75 279.27A41.7 41.7 0 0 1 243.88 287.41" stroke="#208cdf"/><path d="M243.26 285.31A41.7 41.7 0 0 1 245.07 293.84" stroke="#1f8cde"/><path d="M244.79 291.68A41.7 41.7 0 0 1 245.24 300.38" stroke="#1f8add"/><path d="M245.30 298.20A41.7 41.7 0 0 1 244.39 306.87" stroke="#1f8add"/><path d="M244.79 304.72A41.7 41.7 0 0 1 242.53 313.14" stroke="#1f88dc"/><path d="M243.26 311.09A41.7 41.7 0 0 1 239.71 319.05" stroke="#1e88db"/><path d="M240.75 317.13A41.7 41.7 0 0 1 236.01 324.44" stroke="#1e86da"/><path d="M237.34 322.71A41.7 41.7 0 0 1 231.50 329.19" stroke="#1e86d9"/><path d="M233.09 327.69A41.7 41.7 0 0 1 226.31 333.17" stroke="#1d84d8"/><path d="M228.11 331.94A41.7 41.7 0 0 1 220.56 336.29" stroke="#1d84d7"/><path d="M222.53 335.35A41.7 41.7 0 0 1 214.39 338.48" stroke="#1d82d6"/><path d="M216.49 337.86A41.7 41.7 0 0 1 207.96 339.67" stroke="#1c82d5"/><path d="M210.12 339.39A41.7 41.7 0 0 1 201.42 339.84" stroke="#1c80d4"/><path d="M203.60 339.90A41.7 41.7 0 0 1 194.93 338.99" stroke="#1c7fd3"/><path d="M197.08 339.39A41.7 41.7 0 0 1 188.66 337.13" stroke="#1c7ed2"/><path d="M190.71 337.86A41.7 41.7 0 0 1 182.75 334.31" stroke="#1b7cd1"/><path d="M184.67 335.35A41.7 41.7 0 0 1 177.36 330.61" stroke="#1b7bcf"/><path d="M179.09 331.94A41.7 41.7 0 0 1 172.61 326.10" stroke="#1b79ce"/><path d="M174.11 327.69A41.7 41.7 0 0 1 168.63 320.91" stroke="#1b78cd"/><path d="M169.86 322.71A41.7 41.7 0 0 1 165.51 315.16" stroke="#1a76cc"/><path d="M166.45 317.13A41.7 41.7 0 0 1 163.32 308.99" stroke="#1a75ca"/><path d="M163.94 311.09A41.7 41.7 0 0 1 162.13 302.56" stroke="#1a73c9"/><path d="M162.41 304.72A41.7 41.7 0 0 1 161.96 296.02" stroke="#1a72c8"/><path d="M161.90 298.20A41.7 41.7 0 0 1 162.81 289.53" stroke="#1970c6"/><path d="M162.41 291.68A41.7 41.7 0 0 1 164.67 283.26" stroke="#196fc5"/><path d="M163.94 285.31A41.7 41.7 0 0 1 167.49 277.35" stroke="#196dc4"/><path d="M166.45 279.27A41.7 41.7 0 0 1 171.19 271.96" stroke="#196cc2"/><path d="M169.86 273.69A41.7 41.7 0 0 1 175.70 267.21" stroke="#186ac1"/><path d="M174.11 268.71A41.7 41.7 0 0 1 180.89 263.23" stroke="#1869c0"/><path d="M179.09 264.46A41.7 41.7 0 0 1 186.64 260.11" stroke="#1867bf"/><path d="M184.67 261.05A41.7 41.7 0 0 1 192.81 257.92" stroke="#1866bd"/><path d="M190.71 258.54A41.7 41.7 0 0 1 199.24 256.73" stroke="#1764bc"/><path d="M197.08 257.01A41.7 41.7 0 0 1 203.60 256.50" stroke="#1763bb"/></g>
<text x="203.6" y="291.3" text-anchor="middle" font-size="11.8" font-weight="700" fill="#fff">32.25</text>
<text x="203.4" y="306.2" text-anchor="middle" font-size="13" font-weight="700" fill="#fff">65</text>
<text x="203.2" y="316.4" text-anchor="middle" font-size="8.3" fill="#dfe2f6">17,234.65</text>
<text x="317.5" y="284" text-anchor="middle" font-size="10" fill="#aecb48">Yang</text>
<text x="372.8" y="340.4" text-anchor="middle" font-size="10" fill="#aecb48" textLength="24.8" lengthAdjust="spacingAndGlyphs">Taaas</text>
<text class="ax" x="122" y="259.8" text-anchor="end" font-size="10.5">20</text><text class="ax" x="122" y="284.3" text-anchor="end" font-size="10.5">30</text><text class="ax" x="122" y="309.8" text-anchor="end" font-size="10.5">28</text><text class="ax" x="122" y="334.8" text-anchor="end" font-size="10.5">20</text><text class="ax" x="122" y="360.3" text-anchor="end" font-size="10.5">0</text>
<text class="axm" x="125.5" y="373.7" font-size="10.5">Jun</text><text class="axm" x="165.5" y="373.7" font-size="10.5">Tap</text><text class="axm" x="205" y="373.7" font-size="10.5">Jap</text><text class="axm" x="244" y="373.7" font-size="10.5">Vim</text><text class="axm" x="280.5" y="373.7" font-size="10.5">Jal</text><text class="axm" x="315" y="373.7" font-size="10.5">Jan</text><text class="axm" x="353" y="373.7" font-size="10.5">Jap</text>
</svg>
</section>
<section class="card r1" style="left:416.5px;top:206px;width:542px;height:181px">
<h3 style="font-size:12.6px;letter-spacing:-0.37px;left:7px">Prelle Japarncs</h3><span class="tag">A1</span><hr style="left:3.5px;width:529.0px">
<svg width="540" height="179" viewBox="417.5 207 540 179" role="img" aria-label="Prelle Japarncs chart">
<defs>
<linearGradient id="gA2" gradientUnits="userSpaceOnUse" x1="0" y1="250" x2="0" y2="357"><stop offset="0" stop-color="#283168" stop-opacity=".62"/><stop offset="1" stop-color="#0e1544" stop-opacity=".25"/></linearGradient>
<linearGradient id="gL2" gradientUnits="userSpaceOnUse" x1="443" y1="0" x2="953" y2="0">
<stop offset="0" stop-color="#acb5e8"/><stop offset="0.03" stop-color="#acb5e8"/><stop offset="0.045" stop-color="#dc689f"/><stop offset="0.06" stop-color="#acb5e8"/><stop offset="0.10" stop-color="#acb5e8"/><stop offset="0.115" stop-color="#dc689f"/><stop offset="0.14" stop-color="#d05a9a"/><stop offset="0.15" stop-color="#acb5e8"/><stop offset="0.17" stop-color="#b4bcf0"/><stop offset="0.185" stop-color="#dc689f"/><stop offset="0.24" stop-color="#dc689f"/><stop offset="0.26" stop-color="#c87ab8"/><stop offset="0.27" stop-color="#dc689f"/><stop offset="0.285" stop-color="#acb5e8"/><stop offset="0.36" stop-color="#b4bcf0"/><stop offset="0.375" stop-color="#dc689f"/><stop offset="0.42" stop-color="#dc689f"/><stop offset="0.44" stop-color="#acb5e8"/><stop offset="0.50" stop-color="#b4bcf0"/><stop offset="0.52" stop-color="#dc689f"/><stop offset="0.555" stop-color="#dc689f"/><stop offset="0.57" stop-color="#acb5e8"/><stop offset="0.62" stop-color="#b4bcf0"/><stop offset="0.64" stop-color="#dc689f"/><stop offset="0.70" stop-color="#dc689f"/><stop offset="0.72" stop-color="#acb5e8"/><stop offset="0.83" stop-color="#b4bcf0"/><stop offset="0.86" stop-color="#dc689f"/><stop offset="0.93" stop-color="#dc689f"/><stop offset="0.945" stop-color="#acb5e8"/><stop offset="0.985" stop-color="#acb5e8"/><stop offset="1" stop-color="#dc689f"/>
</linearGradient></defs>
<g stroke="#0f1646" stroke-width="1" fill="none"><line x1="443" x2="953" y1="257" y2="257"/><line x1="443" x2="953" y1="281.5" y2="281.5"/><line x1="443" x2="953" y1="308" y2="308"/><line x1="443" x2="953" y1="334" y2="334"/><line x1="583" x2="583" y1="240" y2="357"/><line x1="830" x2="830" y1="240" y2="357"/></g>
<path d="M443.4 240V357H953" fill="none" stroke="#252f66" stroke-width="1"/>
<path d="M443.4,329.9 L444.6,327.4 L447.1,325.6 L450.1,328.1 L453.3,331.1 L455.8,326.1 L458.2,323.2 L460.7,326.1 L463.2,316.3 L465.7,303.9 L468.1,299.4 L470.6,308.8 L473.8,321.2 L476.3,327.4 L478.8,322.4 L481.7,318.2 L484.2,316.3 L486.7,315.0 L489.1,311.8 L492.1,312.5 L494.6,306.4 L496.6,302.6 L499.0,307.6 L502.0,313.3 L505.2,312.5 L508.4,310.8 L511.4,308.8 L513.9,297.7 L516.4,286.6 L518.8,276.7 L520.8,273.0 L523.3,276.7 L525.8,279.1 L528.2,274.2 L531.2,267.3 L533.7,271.7 L536.1,281.6 L538.6,286.6 L540.6,284.1 L543.1,291.5 L545.5,286.6 L548.0,280.4 L550.5,279.6 L553.0,289.0 L555.4,284.1 L557.9,294.0 L560.4,298.9 L562.9,306.4 L565.8,320.0 L568.3,310.1 L571.3,297.7 L573.2,297.0 L575.2,302.6 L577.7,297.7 L580.2,311.3 L582.6,323.2 L585.1,313.8 L587.6,306.9 L590.1,305.9 L592.5,303.4 L595.0,308.8 L596.7,313.8 L599.2,298.9 L600.9,294.0 L603.4,297.7 L605.9,289.0 L607.9,285.3 L610.3,290.3 L612.8,294.0 L615.3,284.1 L617.8,280.4 L620.2,282.9 L623.2,279.1 L625.7,269.3 L628.9,264.3 L631.4,266.3 L633.8,274.2 L636.3,284.1 L638.8,294.0 L640.5,302.6 L643.0,293.5 L645.0,298.9 L647.4,311.3 L649.9,306.4 L652.4,318.7 L654.9,326.1 L657.3,334.8 L659.8,328.6 L662.3,323.7 L664.8,316.3 L668.5,308.8 L672.0,314.5 L674.5,323.2 L677.0,312.0 L680.0,305.0 L683.2,308.2 L687.0,309.5 L689.5,302.0 L693.2,290.8 L697.0,284.5 L700.0,280.8 L703.2,287.0 L705.8,294.5 L708.2,282.0 L712.0,268.2 L714.5,270.0 L717.5,275.8 L720.0,268.2 L723.2,260.8 L727.5,252.0 L730.8,262.0 L734.5,280.8 L737.5,275.8 L740.8,269.5 L743.2,272.0 L746.5,267.0 L749.5,272.0 L752.5,264.5 L755.8,257.5 L759.5,255.8 L764.0,254.0 L765.8,264.5 L767.5,287.0 L769.5,312.0 L771.5,324.5 L774.0,318.2 L778.2,314.5 L782.0,318.2 L785.8,319.5 L787.5,325.8 L790.0,319.5 L793.2,314.5 L796.5,315.8 L799.5,312.0 L801.5,302.0 L804.5,305.8 L809.0,295.0 L812.0,302.0 L815.8,312.0 L819.5,298.2 L822.0,293.2 L825.0,292.0 L828.2,282.0 L832.0,270.8 L835.8,265.0 L839.5,268.2 L843.2,272.5 L847.0,268.2 L851.5,264.5 L855.8,270.8 L859.5,285.8 L864.0,278.2 L868.2,287.0 L872.0,289.5 L875.0,282.0 L878.2,290.8 L882.0,285.8 L885.0,277.0 L888.2,284.5 L892.0,292.0 L895.8,295.8 L898.2,292.0 L902.0,289.5 L906.5,284.5 L910.8,289.5 L914.5,299.5 L917.5,298.2 L920.8,307.0 L923.2,313.2 L925.0,327.0 L927.5,334.5 L931.5,336.5 L935.8,330.8 L939.5,325.8 L944.0,320.8 L947.0,324.5 L949.5,330.8 L952.0,337.0 L953.2,329.5 L953.2,357 L443.4,357 Z" fill="url(#gA2)"/>
<path d="M500 313H560M600 313H648M690 313H760M850 313H953" stroke="#4a1236" stroke-width="1" fill="none" opacity=".6"/>
<path d="M443.4,329.9 L444.6,327.4 L447.1,325.6 L450.1,328.1 L453.3,331.1 L455.8,326.1 L458.2,323.2 L460.7,326.1 L463.2,316.3 L465.7,303.9 L468.1,299.4 L470.6,308.8 L473.8,321.2 L476.3,327.4 L478.8,322.4 L481.7,318.2 L484.2,316.3 L486.7,315.0 L489.1,311.8 L492.1,312.5 L494.6,306.4 L496.6,302.6 L499.0,307.6 L502.0,313.3 L505.2,312.5 L508.4,310.8 L511.4,308.8 L513.9,297.7 L516.4,286.6 L518.8,276.7 L520.8,273.0 L523.3,276.7 L525.8,279.1 L528.2,274.2 L531.2,267.3 L533.7,271.7 L536.1,281.6 L538.6,286.6 L540.6,284.1 L543.1,291.5 L545.5,286.6 L548.0,280.4 L550.5,279.6 L553.0,289.0 L555.4,284.1 L557.9,294.0 L560.4,298.9 L562.9,306.4 L565.8,320.0 L568.3,310.1 L571.3,297.7 L573.2,297.0 L575.2,302.6 L577.7,297.7 L580.2,311.3 L582.6,323.2 L585.1,313.8 L587.6,306.9 L590.1,305.9 L592.5,303.4 L595.0,308.8 L596.7,313.8 L599.2,298.9 L600.9,294.0 L603.4,297.7 L605.9,289.0 L607.9,285.3 L610.3,290.3 L612.8,294.0 L615.3,284.1 L617.8,280.4 L620.2,282.9 L623.2,279.1 L625.7,269.3 L628.9,264.3 L631.4,266.3 L633.8,274.2 L636.3,284.1 L638.8,294.0 L640.5,302.6 L643.0,293.5 L645.0,298.9 L647.4,311.3 L649.9,306.4 L652.4,318.7 L654.9,326.1 L657.3,334.8 L659.8,328.6 L662.3,323.7 L664.8,316.3 L668.5,308.8 L672.0,314.5 L674.5,323.2 L677.0,312.0 L680.0,305.0 L683.2,308.2 L687.0,309.5 L689.5,302.0 L693.2,290.8 L697.0,284.5 L700.0,280.8 L703.2,287.0 L705.8,294.5 L708.2,282.0 L712.0,268.2 L714.5,270.0 L717.5,275.8 L720.0,268.2 L723.2,260.8 L727.5,252.0 L730.8,262.0 L734.5,280.8 L737.5,275.8 L740.8,269.5 L743.2,272.0 L746.5,267.0 L749.5,272.0 L752.5,264.5 L755.8,257.5 L759.5,255.8 L764.0,254.0 L765.8,264.5 L767.5,287.0 L769.5,312.0 L771.5,324.5 L774.0,318.2 L778.2,314.5 L782.0,318.2 L785.8,319.5 L787.5,325.8 L790.0,319.5 L793.2,314.5 L796.5,315.8 L799.5,312.0 L801.5,302.0 L804.5,305.8 L809.0,295.0 L812.0,302.0 L815.8,312.0 L819.5,298.2 L822.0,293.2 L825.0,292.0 L828.2,282.0 L832.0,270.8 L835.8,265.0 L839.5,268.2 L843.2,272.5 L847.0,268.2 L851.5,264.5 L855.8,270.8 L859.5,285.8 L864.0,278.2 L868.2,287.0 L872.0,289.5 L875.0,282.0 L878.2,290.8 L882.0,285.8 L885.0,277.0 L888.2,284.5 L892.0,292.0 L895.8,295.8 L898.2,292.0 L902.0,289.5 L906.5,284.5 L910.8,289.5 L914.5,299.5 L917.5,298.2 L920.8,307.0 L923.2,313.2 L925.0,327.0 L927.5,334.5 L931.5,336.5 L935.8,330.8 L939.5,325.8 L944.0,320.8 L947.0,324.5 L949.5,330.8 L952.0,337.0 L953.2,329.5" fill="none" stroke="url(#gL2)" stroke-width="1.25" stroke-linejoin="round"/>
<text class="ax" x="437" y="260.0" text-anchor="end" font-size="10" textLength="13.7" lengthAdjust="spacingAndGlyphs">360</text><text class="ax" x="437" y="286.5" text-anchor="end" font-size="10" textLength="13.7" lengthAdjust="spacingAndGlyphs">270</text><text class="ax" x="437" y="312.6" text-anchor="end" font-size="10" textLength="13.7" lengthAdjust="spacingAndGlyphs">200</text><text class="ax" x="437" y="338.9" text-anchor="end" font-size="10" textLength="13.7" lengthAdjust="spacingAndGlyphs">118</text><text class="ax" x="437" y="360.4" text-anchor="end" font-size="10" textLength="5" lengthAdjust="spacingAndGlyphs">0</text>
<text class="axm" x="442.5" y="373.7" font-size="10.5">Aap</text><text class="axm" x="489" y="373.7" font-size="10.5">Jap</text><text class="axm" x="536.5" y="373.7" font-size="10.5">Yota</text><text class="axm" x="583.5" y="373.7" font-size="10.5">Jap</text><text class="axm" x="630" y="373.7" font-size="10.5">0m</text><text class="axm" x="675.7" y="373.7" font-size="10.5">Tap</text><text class="axm" x="718" y="373.7" font-size="10.5">Tae</text><text class="axm" x="753.5" y="373.7" font-size="10.5">Jkj</text><text class="axm" x="787" y="373.7" font-size="10.5">Jao</text><text class="axm" x="830" y="373.7" font-size="10.5">Sap</text><text class="axm" x="876" y="373.7" font-size="10.5">Jun</text><text class="axm" x="924.5" y="373.7" font-size="10.5">Jun</text>
</svg>
</section>
<section class="card r1" style="left:980px;top:206px;width:303.5px;height:181px">
<h3 style="font-size:12.6px;letter-spacing:-0.18px;left:7.6px">Bitcoin Battligats</h3><span class="tag">A1</span><hr style="left:7.6px;width:287.1px">
<svg width="301.5" height="179" viewBox="981 207 301.5 179" role="img" aria-label="Bitcoin Battligats chart">
<g stroke="#0f1646" stroke-width="1" fill="none"><line x1="1010" x2="1222" y1="257" y2="257"/><line x1="1010" x2="1222" y1="284" y2="284"/><line x1="1010" x2="1222" y1="309" y2="309"/><line x1="1010" x2="1222" y1="335" y2="335"/><line x1="1093" x2="1093" y1="240" y2="357"/><line x1="1218" x2="1218" y1="240" y2="357"/></g>
<path d="M1009.6 240V357H1276" fill="none" stroke="#252f66" stroke-width="1"/>
<path d="M1009.6,263.1 L1010.1,249.5 L1013.3,253.2 L1015.8,255.7 L1018.3,258.2 L1022.0,253.2 L1025.7,249.5 L1029.4,248.3 L1033.1,253.2 L1034.9,266.8 L1036.3,276.2 L1039.3,270.5 L1041.3,263.1 L1043.8,271.8 L1045.5,260.6 L1048.7,258.2 L1051.2,266.8 L1053.7,258.9 L1056.1,264.4 L1057.9,279.2 L1059.6,293.6 L1062.1,279.2 L1064.1,273.0 L1066.5,279.2 L1069.0,284.2 L1072.0,276.7 L1074.5,282.9 L1076.9,295.3 L1080.1,287.9 L1083.4,281.7 L1086.3,287.9 L1090.0,299.0 L1092.5,310.1 L1095.0,321.3 L1097.5,330.7 L1100.0,318.8 L1102.4,307.7 L1104.9,301.5 L1108.1,302.7 L1111.1,305.2 L1113.1,297.8 L1116.0,301.5 L1118.5,299.0 L1121.5,294.1 L1124.7,287.9 L1126.4,287.9 L1128.4,296.5 L1130.9,306.4 L1133.4,316.3 L1135.8,331.2 L1138.3,343.1 L1140.3,323.8 L1142.0,311.4 L1145.7,310.1 L1148.7,313.4 L1151.9,310.1 L1155.1,308.4 L1157.6,307.7 L1160.6,313.4 L1164.3,316.3 L1166.8,321.3 L1169.3,317.6 L1171.7,322.5 L1175.0,325.0 L1176.7,311.4 L1178.4,297.8 L1180.4,286.6 L1183.4,285.4 L1186.6,286.6 L1189.1,274.3 L1191.5,264.4 L1194.8,263.9 L1197.2,256.9 L1200.2,249.5 L1203.2,250.7 L1206.4,255.0 L1209.6,258.2 L1212.6,253.2 L1216.3,248.3 L1218.8,245.3" fill="none" stroke="#dc6cae" stroke-width="1.3" stroke-linejoin="round"/>
<g stroke="#d85a94" stroke-width="1.2"><path d="M1225 253.5h5M1225 281h5M1225 308.5h5M1225 335.2h5"/></g>
<g font-size="10" fill="#dadcf0"><text x="1234.4" y="257.2" textLength="37.6" lengthAdjust="spacingAndGlyphs">2,745.00</text><text x="1234.4" y="284.8" textLength="37.6" lengthAdjust="spacingAndGlyphs">2,365.00</text><text x="1234.4" y="312.2" textLength="37.6" lengthAdjust="spacingAndGlyphs">3,973.00</text><text x="1234.4" y="339" textLength="37.6" lengthAdjust="spacingAndGlyphs">2,299.00</text></g>
<text class="ax" x="1004.6" y="261.0" text-anchor="end" font-size="10">200</text><text class="ax" x="1004.6" y="287.6" text-anchor="end" font-size="10">300</text><text class="ax" x="1004.6" y="312.6" text-anchor="end" font-size="10">200</text><text class="ax" x="1004.6" y="338.6" text-anchor="end" font-size="10">500</text><text class="ax" x="1004.6" y="360.0" text-anchor="end" font-size="10">0</text>
<text class="axm" x="1010.4" y="373.7" font-size="10.5">Aop</text><text class="axm" x="1050.8" y="373.7" font-size="10.5">Jup</text><text class="axm" x="1092.4" y="373.7" font-size="10.5">Vas</text><text class="axm" x="1134.5" y="373.7" font-size="10.5">Tag</text><text class="axm" x="1175.5" y="373.7" font-size="10.5">Jen</text><text class="axm" x="1214.3" y="373.7" font-size="10.5">20n</text><text class="axm" x="1254.5" y="373.7" font-size="10.5">Jap</text>
</svg>
</section>
<section class="card r2" style="left:100px;top:398px;width:293px;height:171px">
<h3 style="font-size:12.6px;letter-spacing:-0.12px;left:8.2px">Vella Japarts</h3><span class="tag">A1</span><hr style="left:8.2px;width:277.8px">
<svg width="291" height="169" viewBox="101 399 291 169" role="img" aria-label="Vella Japarts chart">
<defs><linearGradient id="gA4" gradientUnits="userSpaceOnUse" x1="0" y1="435" x2="0" y2="541"><stop offset="0" stop-color="#283270" stop-opacity=".8"/><stop offset="1" stop-color="#0e1544" stop-opacity=".3"/></linearGradient></defs>
<g stroke="#0f1646" stroke-width="1" fill="none"><line x1="128" x2="387" y1="449" y2="449"/><line x1="128" x2="387" y1="470" y2="470"/><line x1="128" x2="387" y1="492.5" y2="492.5"/><line x1="128" x2="387" y1="523" y2="523"/><line x1="222" x2="222" y1="433" y2="541"/><line x1="316" x2="316" y1="433" y2="541"/></g>
<path d="M128.3 433V541H387" fill="none" stroke="#252f66" stroke-width="1"/>
<path d="M128.3,469.8 L131.9,473.4 L135.5,479.4 L137.9,482.5 L141.0,478.2 L143.9,474.6 L147.5,476.3 L150.6,477.3 L153.5,486.6 L156.4,499.8 L158.8,509.4 L161.1,514.2 L163.5,507.0 L166.7,495.0 L170.3,480.6 L172.6,472.2 L175.0,471.5 L177.4,487.8 L179.8,507.0 L182.2,514.2 L185.1,508.2 L188.2,501.0 L191.8,493.8 L194.7,484.2 L198.5,473.9 L201.4,478.2 L205.7,484.2 L208.6,479.4 L212.2,474.6 L215.8,471.5 L219.4,473.0 L222.9,474.6 L226.5,477.0 L228.9,490.2 L231.8,501.7 L234.4,496.2 L237.3,491.4 L240.2,497.4 L243.3,505.8 L246.9,512.2 L250.5,516.6 L253.6,519.7 L256.5,514.2 L260.1,505.8 L263.7,498.6 L266.5,492.6 L268.9,483.0 L272.0,475.4 L275.2,480.1 L277.6,474.6 L280.0,473.4 L282.3,483.0 L284.7,495.0 L287.1,503.4 L290.5,501.0 L294.8,497.4 L298.4,486.6 L302.0,473.4 L305.6,463.9 L309.7,460.3 L314.0,461.5 L318.3,462.7 L322.3,457.9 L327.1,449.5 L331.9,453.1 L335.5,444.7 L339.1,435.6 L341.5,435.1 L343.2,451.9 L345.1,468.6 L347.0,484.9 L349.4,475.8 L352.3,468.2 L354.7,475.8 L357.6,487.8 L360.7,499.8 L364.3,507.0 L367.9,513.0 L369.5,514.2 L372.6,507.0 L375.8,502.7 L379.1,504.1 L382.2,508.2 L385.8,513.7 L385.8,541 L128.3,541 Z" fill="url(#gA4)"/>
<path d="M128.3,469.8 L131.9,473.4 L135.5,479.4 L137.9,482.5 L141.0,478.2 L143.9,474.6 L147.5,476.3 L150.6,477.3 L153.5,486.6 L156.4,499.8 L158.8,509.4 L161.1,514.2 L163.5,507.0 L166.7,495.0 L170.3,480.6 L172.6,472.2 L175.0,471.5 L177.4,487.8 L179.8,507.0 L182.2,514.2 L185.1,508.2 L188.2,501.0 L191.8,493.8 L194.7,484.2 L198.5,473.9 L201.4,478.2 L205.7,484.2 L208.6,479.4 L212.2,474.6 L215.8,471.5 L219.4,473.0 L222.9,474.6 L226.5,477.0 L228.9,490.2 L231.8,501.7 L234.4,496.2 L237.3,491.4 L240.2,497.4 L243.3,505.8 L246.9,512.2 L250.5,516.6 L253.6,519.7 L256.5,514.2 L260.1,505.8 L263.7,498.6 L266.5,492.6 L268.9,483.0 L272.0,475.4 L275.2,480.1 L277.6,474.6 L280.0,473.4 L282.3,483.0 L284.7,495.0 L287.1,503.4 L290.5,501.0 L294.8,497.4 L298.4,486.6 L302.0,473.4 L305.6,463.9 L309.7,460.3 L314.0,461.5 L318.3,462.7 L322.3,457.9 L327.1,449.5 L331.9,453.1 L335.5,444.7 L339.1,435.6 L341.5,435.1 L343.2,451.9 L345.1,468.6 L347.0,484.9 L349.4,475.8 L352.3,468.2 L354.7,475.8 L357.6,487.8 L360.7,499.8 L364.3,507.0 L367.9,513.0 L369.5,514.2 L372.6,507.0 L375.8,502.7 L379.1,504.1 L382.2,508.2 L385.8,513.7" fill="none" stroke="#d9ddf8" stroke-width="1.2" stroke-linejoin="round"/>
<text class="ax" x="122" y="452.8" text-anchor="end" font-size="10.5">45</text><text class="ax" x="122" y="473.6" text-anchor="end" font-size="10.5">18</text><text class="ax" x="122" y="496.4" text-anchor="end" font-size="10.5">20</text><text class="ax" x="122" y="516.8" text-anchor="end" font-size="10.5">20</text><text class="ax" x="122" y="540.2" text-anchor="end" font-size="10.5">66</text>
<text class="axm" x="129.8" y="555.7" font-size="10.5">Asp</text><text class="axm" x="175.7" y="555.7" font-size="10.5">Yus</text><text class="axm" x="222.8" y="555.7" font-size="10.5">Jais</text><text class="axm" x="269" y="555.7" font-size="10.5">Tep</text><text class="axm" x="316.7" y="555.7" font-size="10.5">Jun</text><text class="axm" x="364" y="555.7" font-size="10.5">Jun</text>
</svg>
</section>
<section class="card r2" style="left:416.5px;top:398px;width:541.5px;height:171px">
<h3 style="font-size:12.6px;letter-spacing:-0.05px;left:7.4px">Ragle Epotaka</h3><hr style="left:5.5px;width:526.5px">
<svg width="539.5" height="169" viewBox="417.5 399 539.5 169" role="img" aria-label="Ragle Epotaka chart">
<defs><linearGradient id="gA5" gradientUnits="userSpaceOnUse" x1="0" y1="440" x2="0" y2="541"><stop offset="0" stop-color="#3a2a66" stop-opacity=".85"/><stop offset="1" stop-color="#141446" stop-opacity=".35"/></linearGradient></defs>
<g stroke="#0f1646" stroke-width="1" fill="none"><line x1="442" x2="948" y1="445" y2="445"/><line x1="442" x2="948" y1="468.6" y2="468.6"/><line x1="442" x2="948" y1="492" y2="492"/><line x1="442" x2="948" y1="516" y2="516"/><line x1="536" x2="536" y1="433" y2="541"/><line x1="632" x2="632" y1="433" y2="541"/><line x1="830" x2="830" y1="433" y2="541"/></g>
<path d="M442.3 433V541H948" fill="none" stroke="#252f66" stroke-width="1"/>
<path d="M442.3,520.1 L445.9,518.5 L451.9,513.7 L457.9,504.6 L467.5,490.2 L477.1,478.2 L485.4,468.2 L490.2,465.8 L496.2,463.4 L503.4,462.4 L510.6,461.5 L517.8,457.9 L525.0,454.3 L531.0,451.4 L533.4,451.4 L535.7,459.1 L541.7,480.6 L548.4,502.7 L553.7,508.9 L559.7,516.6 L565.2,524.2 L568.1,516.6 L572.9,503.4 L577.2,494.5 L581.3,496.9 L587.2,503.4 L593.2,510.6 L599.2,518.0 L601.6,515.4 L606.4,502.2 L612.4,486.6 L616.5,477.5 L619.6,481.8 L625.6,497.4 L632.8,514.6 L636.3,509.4 L643.5,492.6 L650.7,475.8 L656.7,462.7 L660.3,459.5 L665.1,459.5 L671.1,460.3 L679.5,451.5 L687.0,444.8 L694.5,456.5 L702.0,467.0 L709.5,459.0 L717.0,451.5 L729.5,446.0 L737.5,444.0 L740.8,445.2 L747.0,459.0 L754.5,479.0 L760.8,491.5 L772.0,499.5 L783.2,506.0 L797.0,501.0 L810.0,497.0 L817.0,486.5 L827.0,471.5 L834.5,462.8 L839.0,460.2 L844.5,462.0 L857.0,470.2 L869.5,479.0 L877.0,482.8 L887.0,479.0 L897.0,473.5 L905.8,469.0 L917.0,469.2 L932.0,470.0 L932.0,541 L442.3,541 Z" fill="url(#gA5)"/>
<path d="M442.3,520.1 L445.9,518.5 L451.9,513.7 L457.9,504.6 L467.5,490.2 L477.1,478.2 L485.4,468.2 L490.2,465.8 L496.2,463.4 L503.4,462.4 L510.6,461.5 L517.8,457.9 L525.0,454.3 L531.0,451.4 L533.4,451.4 L535.7,459.1 L541.7,480.6 L548.4,502.7 L553.7,508.9 L559.7,516.6 L565.2,524.2 L568.1,516.6 L572.9,503.4 L577.2,494.5 L581.3,496.9 L587.2,503.4 L593.2,510.6 L599.2,518.0 L601.6,515.4 L606.4,502.2 L612.4,486.6 L616.5,477.5 L619.6,481.8 L625.6,497.4 L632.8,514.6 L636.3,509.4 L643.5,492.6 L650.7,475.8 L656.7,462.7 L660.3,459.5 L665.1,459.5 L671.1,460.3 L679.5,451.5 L687.0,444.8 L694.5,456.5 L702.0,467.0 L709.5,459.0 L717.0,451.5 L729.5,446.0 L737.5,444.0 L740.8,445.2 L747.0,459.0 L754.5,479.0 L760.8,491.5 L772.0,499.5 L783.2,506.0 L797.0,501.0 L810.0,497.0 L817.0,486.5 L827.0,471.5 L834.5,462.8 L839.0,460.2 L844.5,462.0 L857.0,470.2 L869.5,479.0 L877.0,482.8 L887.0,479.0 L897.0,473.5 L905.8,469.0 L917.0,469.2 L932.0,470.0" fill="none" stroke="#e6c6ea" stroke-width="1.2" stroke-linejoin="round"/>
<g fill="none" stroke="#e4e6f8" stroke-width="1.2" stroke-linecap="round" stroke-linejoin="round"><path d="M883 413.2c0-2.2 3.8-2.2 3.8 0 0 1.8-2.6 2.4-3.4 5.2h4.4M883 419.6l-1 1.2"/><path d="M903 412.6l3.6 5.4 3.6-5.4M905.4 412.2h2.4"/></g>
<path d="M919.5 410v12" stroke="#1c2454" stroke-width="1"/>
<text x="938" y="419.6" text-anchor="middle" font-size="9.5" fill="#2db55a">Aates</text>
<text class="ax" x="436" y="448.8" text-anchor="end" font-size="10.5">45</text><text class="ax" x="436" y="472.4" text-anchor="end" font-size="10.5">70</text><text class="ax" x="436" y="495.8" text-anchor="end" font-size="10.5">60</text><text class="ax" x="436" y="519.6" text-anchor="end" font-size="10.5">10</text><text class="ax" x="436" y="543.1" text-anchor="end" font-size="10.5">0</text>
<text class="axm" x="443.5" y="555.7" font-size="10.5">Fap</text><text class="axm" x="488.5" y="555.7" font-size="10.5">Jalt</text><text class="axm" x="535.7" y="555.7" font-size="10.5">Jan</text><text class="axm" x="583.8" y="555.7" font-size="10.5">Jap</text><text class="axm" x="632" y="555.7" font-size="10.5">Yeo</text><text class="axm" x="681.3" y="555.7" font-size="10.5">Aap</text><text class="axm" x="730.8" y="555.7" font-size="10.5">Jate</text><text class="axm" x="780" y="555.7" font-size="10.5">Jon</text><text class="axm" x="829" y="555.7" font-size="10.5">Jap</text><text class="axm" x="877.6" y="555.7" font-size="10.5">Jer</text><text class="axm" x="925" y="555.7" font-size="10.5">Jan</text>
</svg>
</section>
<section class="card r2" style="left:980px;top:398px;width:303.5px;height:171px">
<h3 style="font-size:12.6px;letter-spacing:-0.44px;left:7.5px">Frade Laporins</h3><span class="tag">A1</span><hr style="left:7.0px;width:287.5px">
<svg width="301.5" height="169" viewBox="981 399 301.5 169" role="img" aria-label="Frade Laporins chart">
<defs><linearGradient id="gBar" x1="0" y1="0" x2="0" y2="1"><stop offset="0" stop-color="#ff4a72"/><stop offset="1" stop-color="#ec3a6c"/></linearGradient></defs>
<g stroke="#0f1646" stroke-width="1" fill="none"><line x1="1010" x2="1276" y1="454.5" y2="454.5"/><line x1="1010" x2="1276" y1="475" y2="475"/><line x1="1010" x2="1276" y1="495" y2="495"/><line x1="1010" x2="1276" y1="516.5" y2="516.5"/></g>
<path d="M1009.5 433V542H1276" fill="none" stroke="#252f66" stroke-width="1"/>
<g fill="url(#gBar)"><rect x="1016.75" y="509" width="14.25" height="33" rx="1.2"/><rect x="1039" y="517" width="14.75" height="25" rx="1.2"/><rect x="1061" y="507" width="15" height="35" rx="1.2"/><rect x="1083.75" y="468" width="14.75" height="74" rx="1.2"/><rect x="1106" y="455" width="15" height="87" rx="1.2"/><rect x="1129" y="483.5" width="14.75" height="58.5" rx="1.2"/><rect x="1151.75" y="489" width="14.25" height="53" rx="1.2"/><rect x="1173.75" y="518.5" width="14.75" height="23.5" rx="1.2"/><rect x="1196" y="510.5" width="15" height="31.5" rx="1.2"/><rect x="1218.75" y="499.75" width="15.0" height="42.25" rx="1.2"/><rect x="1241.75" y="484" width="14.25" height="58" rx="1.2"/></g>
<text class="ax" x="1002" y="438.6" text-anchor="end" font-size="10">55</text><text class="ax" x="1002" y="458.1" text-anchor="end" font-size="10">70</text><text class="ax" x="1002" y="478.1" text-anchor="end" font-size="10">80</text><text class="ax" x="1002" y="498.6" text-anchor="end" font-size="10">40</text><text class="ax" x="1002" y="520.1" text-anchor="end" font-size="10">30</text><text class="ax" x="1002" y="542.6" text-anchor="end" font-size="10">10</text>
<text class="axm" x="1011" y="556.4" font-size="10.5">Aap</text><text class="axm" x="1045.4" y="556.4" font-size="10.5">Ill</text><text class="axm" x="1069.5" y="556.4" font-size="10.5">Jp</text><text class="axm" x="1105.8" y="556.4" font-size="10.5">Tile</text><text class="axm" x="1144.6" y="556.4" font-size="10.5">May</text><text class="axm" x="1185.5" y="556.4" font-size="10.5">Tup</text><text class="axm" x="1223.5" y="556.4" font-size="10.5">Til</text><text class="axm" x="1255.8" y="556.4" font-size="10.5">Jay</text>
</svg>
</section>


</div>
</body>
</html>
